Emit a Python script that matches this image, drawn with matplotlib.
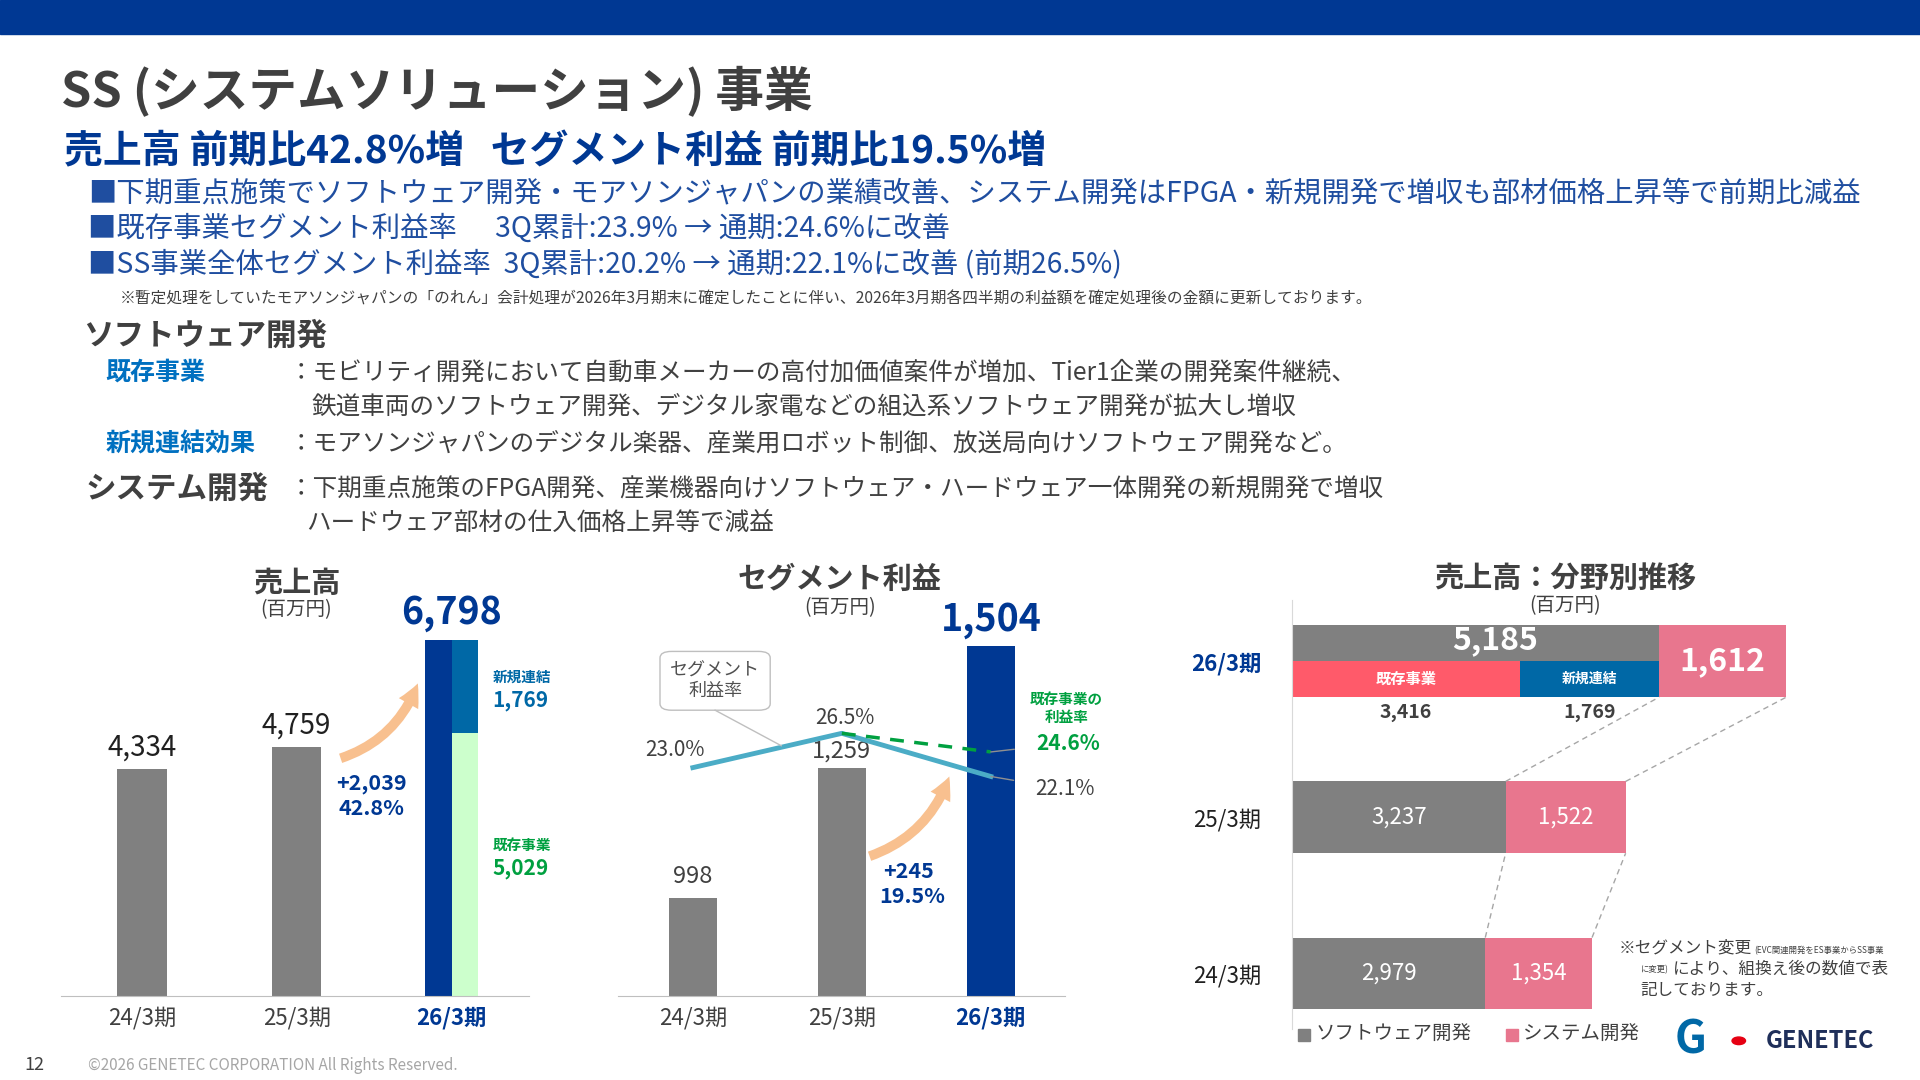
import matplotlib
matplotlib.use("Agg")
import matplotlib.pyplot as plt
from matplotlib.patches import FancyArrowPatch, FancyBboxPatch, Rectangle, Circle
from matplotlib.lines import Line2D

plt.rcParams['font.family'] = ['Noto Sans CJK JP', 'DejaVu Sans']

# ---- data ----
periods = ["24/3期", "25/3期", "26/3期"]
sales = [4334, 4759, 6798]
sales_existing = 5029
sales_new = 1769
profit = [998, 1259, 1504]
margin = [23.0, 26.5, 22.1]
margin_existing = 24.6
soft_dev = [2979, 3237, 5185]
sys_dev = [1354, 1522, 1612]
soft_existing = 3416
soft_new = 1769

NAVY = "#003893"
GREY = "#808080"
PINK = "#E8768E"
RED = "#FF5A6A"
NEWBLUE = "#0068A6"
LGREEN = "#CCFFCC"
GREEN = "#00A040"
CYAN = "#4BACC6"
PEACH = "#F8C08F"
DARK = "#404040"

W, H = 1568, 882
fig = plt.figure(figsize=(19.2, 10.8), dpi=100)


def P(x, y):
    return x / W, 1 - y / H


def T(x, y, s, size, **kw):
    kw.setdefault("color", DARK)
    kw.setdefault("va", "center")
    fig.text(*P(x, y), s, fontsize=size, **kw)


def ax_at(x0, y0, x1, y1):
    return fig.add_axes([x0 / W, 1 - y1 / H, (x1 - x0) / W, (y1 - y0) / H])


# top band
fig.add_artist(Rectangle((0, 1 - 28 / H), 1, 28 / H, transform=fig.transFigure, color=NAVY))

# ---- header text ----
T(50, 75, "SS (システムソリューション) 事業", 35, weight="bold")
T(52, 124, "売上高 前期比42.8%増   セグメント利益 前期比19.5%増", 28, weight="bold", color=NAVY)
BL = "#1F4EA0"
T(72, 158, "■下期重点施策でソフトウェア開発・モアソンジャパンの業績改善、システム開発はFPGA・新規開発で増収も部材価格上昇等で前期比減益", 20.4, color=BL)
T(72, 187, "■既存事業セグメント利益率      3Q累計:23.9% → 通期:24.6%に改善", 20.4, color=BL)
T(72, 216, "■SS事業全体セグメント利益率  3Q累計:20.2% → 通期:22.1%に改善 (前期26.5%)", 20.4, color=BL)
T(98, 244, "※暫定処理をしていたモアソンジャパンの「のれん」会計処理が2026年3月期末に確定したことに伴い、2026年3月期各四半期の利益額を確定処理後の金額に更新しております。", 11.3, color="#404040")

T(68, 274, "ソフトウェア開発", 22, weight="bold")
T(86, 304, "既存事業", 18, weight="bold", color="#0070C0")
T(236, 304, "：モビリティ開発において自動車メーカーの高付加価値案件が増加、Tier1企業の開発案件継続、", 17.7)
T(254, 332, "鉄道車両のソフトウェア開発、デジタル家電などの組込系ソフトウェア開発が拡大し増収", 17.7)
T(86, 363, "新規連結効果", 18, weight="bold", color="#0070C0")
T(236, 363, "：モアソンジャパンのデジタル楽器、産業用ロボット制御、放送局向けソフトウェア開発など。", 17.7)
T(70, 399, "システム開発", 22, weight="bold")
T(236, 400, "：下期重点施策のFPGA開発、産業機器向けソフトウェア・ハードウェア一体開発の新規開発で増収", 17.7)
T(250, 427, "ハードウェア部材の仕入価格上昇等で減益", 17.7)

# ---- chart 1: sales ----
ax1 = ax_at(50, 470, 432, 813)
xs = [0, 1, 2]
ax1.bar(xs[:2], sales[:2], width=0.32, color=GREY)
ax1.bar(2 - 0.085, sales[2], width=0.17, color=NAVY)
ax1.bar(2 + 0.085, sales_existing, width=0.17, color=LGREEN)
ax1.bar(2 + 0.085, sales_new, bottom=sales_existing, width=0.17, color=NEWBLUE)
ax1.set_xlim(-0.52, 2.5)
ax1.set_ylim(0, 8033)
for s in ["top", "right", "left"]:
    ax1.spines[s].set_visible(False)
ax1.spines["bottom"].set_color("#BFBFBF")
ax1.set_yticks([])
ax1.set_xticks(xs, periods)
ax1.tick_params(axis="x", length=0, labelsize=16, pad=8, labelcolor=DARK)
ax1.get_xticklabels()[2].set_color(NAVY)
ax1.get_xticklabels()[2].set_fontweight("bold")
for i in range(2):
    ax1.text(i, sales[i] + 120, f"{sales[i]:,}", ha="center", va="bottom", fontsize=20, color="#202020")
ax1.text(2, sales[2] + 150, f"{sales[2]:,}", ha="center", va="bottom", fontsize=27, weight="bold", color=NAVY)
T(242, 476, "売上高", 21, weight="bold", ha="center")
T(242, 498, "(百万円)", 14, ha="center")
T(402, 553, "新規連結", 10.5, weight="bold", color=NEWBLUE)
T(402, 572, f"{sales_new:,}", 15, weight="bold", color=NEWBLUE)
T(402, 690, "既存事業", 10.5, weight="bold", color=GREEN)
T(402, 709, f"{sales_existing:,}", 15, weight="bold", color=GREEN)
T(303, 640, f"+{sales[2]-sales[1]:,}", 15.5, weight="bold", color=NAVY, ha="center")
T(303, 660, f"{(sales[2]/sales[1]-1)*100:.1f}%", 15.5, weight="bold", color=NAVY, ha="center")
fig.add_artist(FancyArrowPatch(P(276, 620), P(342, 556), transform=fig.transFigure,
                               connectionstyle="arc3,rad=0.25",
                               arrowstyle="simple,head_width=16,head_length=16,tail_width=7",
                               color=PEACH, lw=0))

# ---- chart 2: segment profit ----
ax2 = ax_at(505, 470, 870, 813)
ax2.bar(xs, profit, width=0.32, color=[GREY, GREY, NAVY])
ax2.set_xlim(-0.5, 2.5)
ax2.set_ylim(803, 1646)
for s in ["top", "right", "left"]:
    ax2.spines[s].set_visible(False)
ax2.spines["bottom"].set_color("#BFBFBF")
ax2.set_yticks([])
ax2.set_xticks(xs, periods)
ax2.tick_params(axis="x", length=0, labelsize=16, pad=8, labelcolor=DARK)
ax2.get_xticklabels()[2].set_color(NAVY)
ax2.get_xticklabels()[2].set_fontweight("bold")
ax2.text(0, profit[0] + 20, f"{profit[0]:,}", ha="center", va="bottom", fontsize=17, color=DARK)
ax2.text(1, profit[1] + 12, f"{profit[1]:,}", ha="center", va="bottom", fontsize=17, color=DARK)
ax2.text(2, profit[2] + 15, f"{profit[2]:,}", ha="center", va="bottom", fontsize=27, weight="bold", color=NAVY)
tw = ax2.twinx()
tw.set_ylim(-0.25, 42.6)
tw.axis("off")
tw.plot(xs, margin, color=CYAN, lw=3.5)
tw.plot([1, 2], [margin[1], margin_existing], color=GREEN, lw=2.5, ls=(0, (4, 3)))
tw.text(-0.12, margin[0] + 0.7, f"{margin[0]:.1f}%", ha="center", va="bottom", fontsize=15, color=DARK)
tw.text(1.02, margin[1] + 0.4, f"{margin[1]:.1f}%", ha="center", va="bottom", fontsize=15, color=DARK)
tw.annotate(f"{margin[2]:.1f}%", xy=(2, margin[2]), xytext=(2.5, margin[2] - 1.3),
            fontsize=15, color=DARK, ha="center", va="center",
            arrowprops=dict(arrowstyle="-", color="#909090", lw=1, shrinkA=14, shrinkB=0))
tw.annotate(f"{margin_existing:.1f}%", xy=(2, margin_existing), xytext=(2.52, margin_existing + 0.9),
            fontsize=15, color=GREEN, weight="bold", ha="center", va="center",
            arrowprops=dict(arrowstyle="-", color="#909090", lw=1, shrinkA=14, shrinkB=0))
T(871, 578, "既存事業の\n利益率", 10.5, weight="bold", color=GREEN, ha="center", linespacing=1.2)
T(686, 473, "セグメント利益", 21, weight="bold", ha="center")
T(686, 496, "(百万円)", 14, ha="center")
fig.add_artist(FancyBboxPatch(P(539, 580), 90 / W, 48 / H, transform=fig.transFigure,
                              boxstyle="round,pad=0,rounding_size=0.006", fc="white", ec="#BFBFBF", lw=1))
T(584, 556, "セグメント\n利益率", 13, ha="center", color="#505050", linespacing=1.2)
fig.add_artist(Line2D([P(584, 580)[0], P(638, 609)[0]], [P(584, 580)[1], P(638, 609)[1]],
                      transform=fig.transFigure, color="#BFBFBF", lw=1))
T(742, 712, f"+{profit[2]-profit[1]:,}", 15.5, weight="bold", color=NAVY, ha="center")
T(745, 732, f"{(profit[2]/profit[1]-1)*100:.1f}%", 15.5, weight="bold", color=NAVY, ha="center")
fig.add_artist(FancyArrowPatch(P(708, 700), P(776, 632), transform=fig.transFigure,
                               connectionstyle="arc3,rad=0.25",
                               arrowstyle="simple,head_width=16,head_length=16,tail_width=7",
                               color=PEACH, lw=0))

# ---- chart 3: sales by field ----
ax3 = ax_at(1055, 490, 1470, 840)
rows = [0, 1, 2]
bh = 0.46
ax3.set_xlim(526, 526 + 415 / 0.0644)
ax3.set_ylim(-0.353, 2.392)
ax3.barh(rows[:2], soft_dev[:2], height=bh, color=GREY)
ax3.barh(rows[:2], sys_dev[:2], left=soft_dev[:2], height=bh, color=PINK)
ax3.barh(2 + bh / 4, soft_dev[2], height=bh / 2, color=GREY)
ax3.barh(2 - bh / 4, soft_existing, height=bh / 2, color=RED)
ax3.barh(2 - bh / 4, soft_new, left=soft_existing, height=bh / 2, color=NEWBLUE)
ax3.barh(2, sys_dev[2], left=soft_dev[2], height=bh, color=PINK)
for i in range(2):
    ax3.text((526 + soft_dev[i]) / 2, i, f"{soft_dev[i]:,}", ha="center", va="center", fontsize=16, color="white")
    ax3.text(soft_dev[i] + sys_dev[i] / 2, i, f"{sys_dev[i]:,}", ha="center", va="center", fontsize=16, color="white")
ax3.text((526 + soft_dev[2]) / 2 + 250, 2 + bh / 4 + 0.02, f"{soft_dev[2]:,}", ha="center", va="center",
         fontsize=23, weight="bold", color="white")
ax3.text(soft_dev[2] + sys_dev[2] / 2, 2, f"{sys_dev[2]:,}", ha="center", va="center",
         fontsize=23, weight="bold", color="white")
ax3.text((526 + soft_existing) / 2, 2 - bh / 4, "既存事業", ha="center", va="center", fontsize=11, weight="bold", color="white")
ax3.text(soft_existing + soft_new / 2, 2 - bh / 4, "新規連結", ha="center", va="center", fontsize=10, weight="bold", color="white")
ax3.text((526 + soft_existing) / 2, 2 - 0.33, f"{soft_existing:,}", ha="center", va="center", fontsize=14, weight="bold", color=DARK)
ax3.text(soft_existing + soft_new / 2, 2 - 0.33, f"{soft_new:,}", ha="center", va="center", fontsize=14, weight="bold", color=DARK)
for lo, hi in [(0, 1), (1, 2)]:
    for a, b in [(soft_dev[lo], soft_dev[hi]), (soft_dev[lo] + sys_dev[lo], soft_dev[hi] + sys_dev[hi])]:
        ax3.plot([a, b], [lo + bh / 2, hi - bh / 2], color="#A6A6A6", lw=1, ls=(0, (4, 3)))
for s in ["top", "right", "bottom"]:
    ax3.spines[s].set_visible(False)
ax3.spines["left"].set_color("#D9D9D9")
ax3.set_xticks([])
ax3.set_yticks(rows, periods)
ax3.tick_params(axis="y", length=0, labelsize=16, pad=22, labelcolor="#202020")
ax3.get_yticklabels()[2].set_color(NAVY)
ax3.get_yticklabels()[2].set_fontweight("bold")
T(1278, 472, "売上高：分野別推移", 21, weight="bold", ha="center")
T(1278, 495, "(百万円)", 14, ha="center")
T(1322, 774, "※セグメント変更", 12, color="#404040")
T(1433, 776, "(EVC関連開発をES事業からSS事業", 6, color="#404040")
T(1340, 792, "に変更)", 6, color="#404040")
T(1366, 791, "により、組換え後の数値で表", 12, color="#404040")
T(1340, 809, "記しております。", 12, color="#404040")
fig.add_artist(Rectangle(P(1060, 850), 10 / W, 10 / H, transform=fig.transFigure, color=GREY))
T(1074, 845, "ソフトウェア開発", 14)
fig.add_artist(Rectangle(P(1230, 850), 10 / W, 10 / H, transform=fig.transFigure, color=PINK))
T(1244, 845, "システム開発", 14)

# ---- footer ----
T(20, 870, "12", 13, color="#404040")
T(72, 870, "©2026 GENETEC CORPORATION All Rights Reserved.", 11, color="#A6A6A6")
T(1368, 850, "G", 32, weight="bold", color=NEWBLUE)
fig.add_artist(Circle(P(1420, 850), 5.5 / W, transform=fig.transFigure, color="#E60012"))
T(1442, 850, "GENETEC", 17, weight="bold", color="#1F2F5A")

fig.savefig("out.png", dpi=100)
